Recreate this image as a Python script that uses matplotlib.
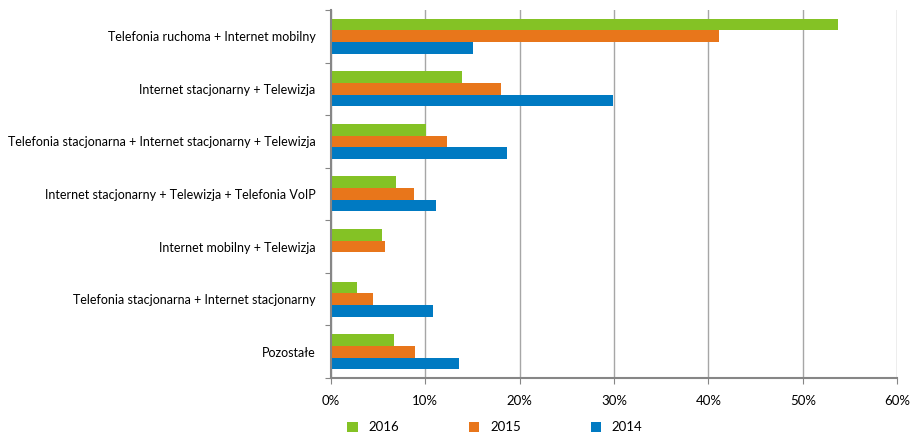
import numpy as np
import matplotlib.pyplot as plt

plt.rcParams['font.family'] = ['Lato', 'DejaVu Sans']

# categories from top to bottom
categories = ["Telefonia ruchoma + Internet mobilny",
              "Internet stacjonarny + Telewizja",
              "Telefonia stacjonarna + Internet stacjonarny + Telewizja",
              "Internet stacjonarny + Telewizja + Telefonia VoIP",
              "Internet mobilny + Telewizja",
              "Telefonia stacjonarna + Internet stacjonarny",
              "Pozostałe"]
years = ["2016", "2015", "2014"]
val_2016 = [53.7, 13.9, 10.1, 6.9, 5.4, 2.8, 6.75]
val_2015 = [41.1, 18.0, 12.3, 8.8, 5.8, 4.5, 8.9]
val_2014 = [15.1, 29.9, 18.7, 11.2, 0, 10.8, 13.6]
colors = ["#84c225", "#e8761b", "#007ac2"]

fig = plt.figure(figsize=(9.11, 4.32), dpi=100)
ax = fig.add_axes([0.363, 0.125, 0.622, 0.852])

y = np.arange(len(categories))
h = 0.222
for i, (vals, col, lab) in enumerate(zip([val_2016, val_2015, val_2014], colors, years)):
    ax.barh(y + (i - 1) * h, vals, height=h, color=col, label=lab)

ax.set_ylim(len(categories) - 0.5, -0.5)
ax.set_xlim(0, 60)
ax.set_xticks(np.arange(0, 61, 10))
ax.set_xticklabels([f"{v}%" for v in range(0, 61, 10)], fontsize=9.5)
ax.set_yticks(np.arange(-0.5, len(categories), 1))
ax.set_yticklabels([])
ax.set_yticks(y, minor=True)
ax.set_yticklabels(categories, minor=True, fontsize=9)
ax.tick_params(axis='y', which='minor', length=0, pad=11)
ax.tick_params(axis='y', which='major', length=4, color='#868686')
ax.tick_params(axis='x', length=4, color='#868686', pad=8)
ax.grid(axis='x', color='#a6a6a6', linewidth=1)
ax.set_axisbelow(True)
for s in ['top', 'right']:
    ax.spines[s].set_visible(False)
for s in ['left', 'bottom']:
    ax.spines[s].set_color('#868686')
    ax.spines[s].set_linewidth(1.5)

ax.legend(loc='upper left', bbox_to_anchor=(0.008, -0.085), ncol=3, frameon=False,
          fontsize=9.5, handlelength=0.8, handleheight=0.8, columnspacing=5.3,
          handletextpad=0.8)

fig.savefig("out.png")
